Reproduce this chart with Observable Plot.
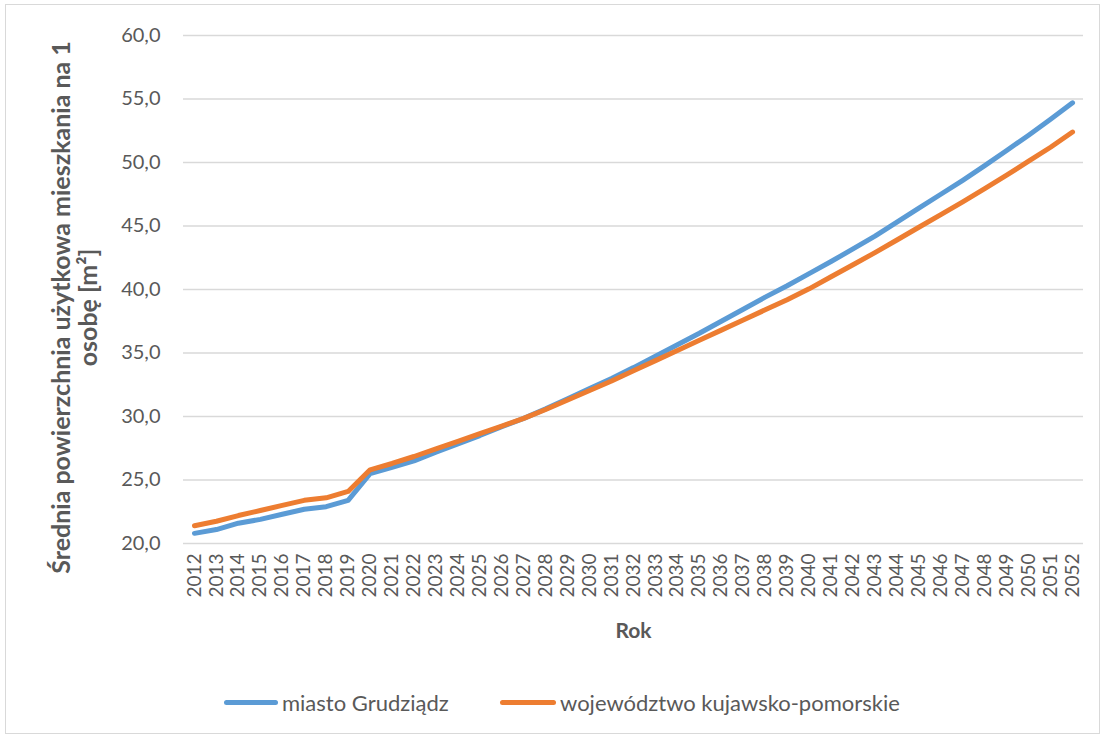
<!DOCTYPE html>
<html>
<head>
<meta charset="utf-8">
<script src="https://cdn.jsdelivr.net/npm/d3@7"></script>
<script src="https://cdn.jsdelivr.net/npm/@observablehq/plot@0.6"></script>
<style>
  html, body { margin: 0; padding: 0; background: #fff; }
  #wrap { position: relative; width: 1107px; height: 738px; overflow: hidden; font-family: Lato, "Open Sans", sans-serif; }
  #frame { position: absolute; left: 5px; top: 4px; width: 1095px; height: 730px; border: 1px solid #d9d9d9; box-sizing: border-box; }
  #chart { position: absolute; left: 0; top: 0; }
  #legend { position: absolute; top: 688px; left: 0; width: 1107px; height: 28px; }
  .item { position: absolute; top: 0; height: 28px; display: flex; align-items: center; color: #595959; font-size: 22px; }
  .swatch { height: 5px; border-radius: 3px; margin-right: 4px; }
</style>
</head>
<body>
<div id="wrap">
  <div id="frame"></div>
  <div id="chart"></div>
  <div id="legend"></div>
</div>
<script>
const years = [2012,2013,2014,2015,2016,2017,2018,2019,2020,2021,2022,2023,2024,2025,2026,2027,2028,2029,2030,2031,2032,2033,2034,2035,2036,2037,2038,2039,2040,2041,2042,2043,2044,2045,2046,2047,2048,2049,2050,2051,2052];
const grudziadz = [20.8,21.1,21.6,21.9,22.3,22.7,22.9,23.4,25.5,26.0,26.5,27.2,27.85,28.5,29.2,29.85,30.6,31.4,32.2,33.0,33.85,34.75,35.65,36.55,37.5,38.45,39.4,40.3,41.25,42.2,43.2,44.2,45.3,46.4,47.5,48.6,49.75,50.95,52.15,53.4,54.7];
const kujPom = [21.4,21.75,22.2,22.6,23.0,23.4,23.6,24.1,25.8,26.3,26.85,27.45,28.05,28.65,29.25,29.85,30.55,31.3,32.05,32.8,33.6,34.4,35.2,36.0,36.8,37.6,38.4,39.2,40.05,41.0,41.95,42.9,43.9,44.9,45.9,46.9,47.95,49.0,50.1,51.2,52.4];
const seriesNames = ["miasto Grudziądz", "województwo kujawsko-pomorskie"];
const seriesColors = ["#5B9BD5", "#ED7D31"];
const yTicks = [20,25,30,35,40,45,50,55,60];
const yTitle = "Średnia powierzchnia użytkowa mieszkania na 1\nosobę [m²]";
const xTitle = "Rok";

const data = years.flatMap((yr, i) => [
  {year: yr, value: grudziadz[i], series: seriesNames[0]},
  {year: yr, value: kujPom[i], series: seriesNames[1]}
]);

const chart = Plot.plot({
  width: 1107,
  height: 660,
  marginLeft: 183,
  marginRight: 24,
  marginTop: 35,
  marginBottom: 117,
  style: {fontFamily: "Lato, 'Open Sans', sans-serif", color: "#595959", background: "transparent"},
  x: {type: "point", domain: years, padding: 0.5, label: null},
  y: {domain: [20, 60], label: null},
  color: {domain: seriesNames, range: seriesColors},
  marks: [
    Plot.gridY(yTicks, {stroke: "#d9d9d9", strokeOpacity: 1, strokeWidth: 1.3}),
    Plot.axisY(yTicks, {tickSize: 0, tickPadding: 23, fontSize: 20, label: null, tickFormat: d => d.toFixed(1).replace(".", ",")}),
    Plot.axisX({tickRotate: -90, tickSize: 0, tickPadding: 10, fontSize: 19, label: null, tickFormat: d => String(d)}),
    Plot.line(data, {x: "year", y: "value", stroke: "series", strokeWidth: 5, strokeLinecap: "round", strokeLinejoin: "round"}),
    Plot.text([yTitle], {frameAnchor: "left", textAnchor: "middle", lineAnchor: "middle", rotate: -90, dx: -109, dy: 18, fontSize: 25, fontWeight: "bold", lineHeight: 1.1, fill: "#595959"}),
    Plot.text([xTitle], {frameAnchor: "bottom", dy: 94, fontSize: 21, fontWeight: "bold", fill: "#595959"})
  ]
});
document.getElementById("chart").appendChild(chart);

const legend = document.getElementById("legend");
const legendPos = [{line: 224, w: 54}, {line: 500, w: 56}];
seriesNames.forEach((name, i) => {
  const item = document.createElement("div");
  item.className = "item";
  item.style.left = legendPos[i].line + "px";
  const sw = document.createElement("div");
  sw.className = "swatch";
  sw.style.width = legendPos[i].w + "px";
  sw.style.background = seriesColors[i];
  const tx = document.createElement("span");
  tx.textContent = name;
  item.appendChild(sw);
  item.appendChild(tx);
  legend.appendChild(item);
});
</script>
</body>
</html>
